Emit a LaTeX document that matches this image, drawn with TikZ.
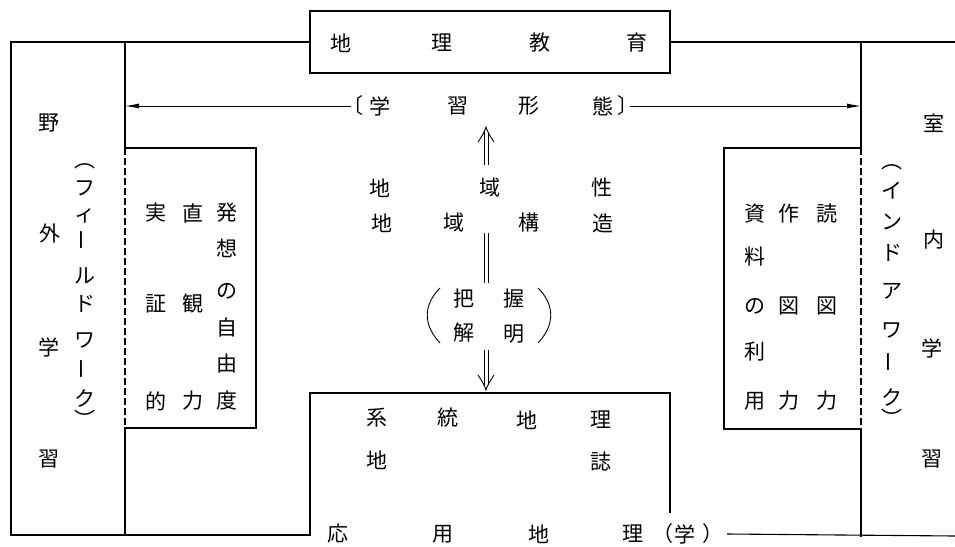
\documentclass[tikz,border=0pt]{standalone}
\usepackage{fontspec}
\newfontfamily\cjk{Noto Sans CJK JP}
\usetikzlibrary{arrows.meta}
\tikzset{
  tx/.style={inner sep=0pt, font=\cjk\fontsize{21}{21}\selectfont},
  frame/.style={line width=1.1pt, line cap=rect},
  dashline/.style={line width=1.1pt, dash pattern=on 7pt off 3pt},
  harrow/.style={line width=0.9pt, -{Latex[length=14pt,width=5pt]}},
  dblline/.style={line width=0.9pt},
}
\newcommand\tx[4]{\node[tx] (#1) at (#2,#3) {#4};}
\begin{document}
\begin{tikzpicture}[x=1pt,y=-1pt]
\useasboundingbox (0,0) rectangle (955,546);
% top box
\node[frame, draw, minimum width=360pt, minimum height=62pt, inner sep=0pt] (top) at (490,42) {};
\tx{t1}{341}{43}{地}\tx{t2}{442}{43}{理}\tx{t3}{540}{43}{教}\tx{t4}{637}{43}{育}
% frame coordinates
\coordinate (LT) at (11,42);
\coordinate (LB) at (11,535);
\coordinate (VL0) at (125,42);
\coordinate (VL1) at (125,148);
\coordinate (VL2) at (125,428);
\coordinate (VL3) at (125,535);
\coordinate (LI1) at (256,148);
\coordinate (LI2) at (256,428);
\coordinate (BB0) at (310,535);
\coordinate (BB1) at (310,393);
\coordinate (BB2) at (670,393);
\coordinate (BB3) at (670,512);
\coordinate (RT) at (955,42);
\coordinate (VR0) at (861,42);
\coordinate (VR1) at (861,148);
\coordinate (VR2) at (861,429);
\coordinate (VR3) at (861,536);
\coordinate (RI1) at (724,148);
\coordinate (RI2) at (724,429);
\coordinate (RB) at (955,536);
\coordinate (AL) at (125,106);
\coordinate (AR) at (861,106);
% frame
\draw[frame] (top.west) -- (LT) -- (LB) -- (BB0) -- (BB1) -- (BB2) -- (BB3);
\draw[frame] (VL0) -- (VL1) -- (LI1) -- (LI2) -- (VL2) -- (VL3);
\draw[dashline] (VL1) -- (VL2);
\draw[frame] (top.east) -- (RT);
\draw[frame] (VR0) -- (VR1) -- (RI1) -- (RI2) -- (VR2) -- (VR3);
\draw[dashline] (VR1) -- (VR2);
% arrow row
\tx{a0}{353}{106}{〔}\tx{a1}{380}{106}{学}\tx{a2}{458}{106}{習}\tx{a3}{529}{106}{形}\tx{a4}{603}{106}{態}\tx{a5}{628}{106}{〕}
\draw[harrow] (a0.west) ++(9pt,0) -- (AL);
\draw[harrow] (a5.east) ++(-9pt,0) -- (AR);
% center column
\tx{c1}{380}{188}{地}\tx{c2}{490}{188}{域}\tx{c3}{602}{188}{性}
\tx{c4}{382}{223}{地}\tx{c5}{454}{223}{域}\tx{c6}{529}{223}{構}\tx{c7}{603}{223}{造}
\tx{p1}{464}{299}{把}\tx{p2}{514}{299}{握}\tx{p3}{464}{333}{解}\tx{p4}{514}{334}{明}
% up double arrow
\draw[dblline] (484,165) -- (484,132) (488,165) -- (488,132);
\draw[dblline] (478,142) .. controls (482,136) and (485,131) .. (486,127) .. controls (487,131) and (490,136) .. (494,142);
% double bar
\draw[dblline] (484,233) -- (484,283) (488,233) -- (488,283);
% down double arrow
\draw[dblline] (484,350) -- (484,385) (488,350) -- (488,385);
\draw[dblline] (478,375) .. controls (482,381) and (485,386) .. (486,390) .. controls (487,386) and (490,381) .. (494,375);
\draw[line width=0.9pt] (440,288) .. controls (423,305) and (423,325) .. (440,343);
\draw[line width=0.9pt] (538,288) .. controls (555,305) and (555,325) .. (538,343);
% bottom box
\tx{b1}{377}{418}{系}\tx{b2}{448}{418}{統}\tx{b3}{527}{420}{地}\tx{b4}{601}{420}{理}
\tx{b5}{377}{460}{地}\tx{b6}{601}{461}{誌}
\tx{g1}{338}{534}{応}\tx{g2}{443}{534}{用}\tx{g3}{539}{534}{地}\tx{g4}{633}{534}{理}
\tx{g5}{663}{534}{（}\tx{g6}{685}{534}{学}\tx{g7}{713}{534}{）}
\draw[frame] (g7.east) ++(4pt,0) -- (RB);
% left big column
\tx{L1}{49}{123}{野}\tx{L2}{50}{233}{外}\tx{L3}{49}{347}{学}\tx{L4}{49}{459}{習}
% left katakana
\tx{k1}{85}{166}{︵}\tx{k2}{85}{188}{フ}\tx{k3}{85}{216}{ィ}
\node[tx, rotate=90] (k4) at (85,240) {ー};
\tx{k5}{85}{276}{ル}\tx{k6}{85}{304}{ド}\tx{k7}{85}{340}{ワ}
\node[tx, rotate=90] (k8) at (85,369) {ー};
\tx{k9}{85}{398}{ク}\tx{k10}{85}{419}{︶}
% left inner box
\tx{e1}{156}{213}{実}\tx{e2}{156}{304}{証}\tx{e3}{156}{401}{的}
\tx{e4}{193}{213}{直}\tx{e5}{193}{304}{観}\tx{e6}{193}{401}{力}
\tx{e7}{227}{213}{発}\tx{e8}{227}{248}{想}\tx{e9}{227}{291}{の}\tx{e10}{227}{328}{自}\tx{e11}{227}{364}{由}\tx{e12}{227}{401}{度}
% right inner box
\tx{r1}{755}{214}{資}\tx{r2}{755}{257}{料}\tx{r3}{755}{306}{の}\tx{r4}{755}{352}{利}\tx{r5}{755}{401}{用}
\tx{r6}{789}{214}{作}\tx{r7}{789}{306}{図}\tx{r8}{789}{401}{力}
\tx{r9}{827}{214}{読}\tx{r10}{827}{306}{図}\tx{r11}{827}{401}{力}
% right katakana
\tx{q1}{892}{167}{︵}\tx{q2}{892}{191}{イ}\tx{q3}{892}{222}{ン}\tx{q4}{892}{253}{ド}\tx{q5}{892}{291}{ア}\tx{q6}{892}{330}{ワ}
\node[tx, rotate=90] (q7) at (892,362) {ー};
\tx{q8}{892}{397}{ク}\tx{q9}{892}{418}{︶}
% right big column
\tx{R1}{934}{123}{室}\tx{R2}{934}{240}{内}\tx{R3}{932}{348}{学}\tx{R4}{932}{459}{習}
\end{tikzpicture}
\end{document}
